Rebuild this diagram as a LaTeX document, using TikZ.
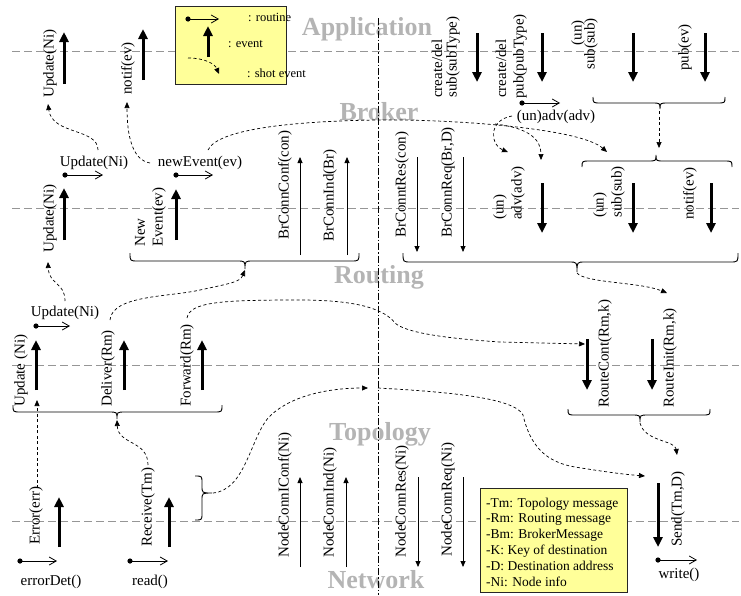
\documentclass[tikz,border=0pt]{standalone}
\usepackage{fontspec}
\setmainfont{Liberation Serif}
\usetikzlibrary{arrows.meta}
\definecolor{legyellow}{RGB}{255,255,153}
\definecolor{titlegray}{RGB}{180,180,180}
\definecolor{linegray}{RGB}{150,150,150}
\newcommand\hbrace[6]{%
 \draw[bracestyle] (#1,#3) .. controls (#1,#4) .. ({#1+8},#4) -- ({#5-8},#4) .. controls (#5,#4) .. (#5,#6) .. controls (#5,#4) .. ({#5+8},#4) -- ({#2-8},#4) .. controls (#2,#4) .. (#2,#3);}
\newcommand\rdot[1]{\fill[black] #1 circle[radius=2.6];}
\begin{document}
\begin{tikzpicture}[x=1pt,y=-1pt,
  lbl/.style={font=\fontsize{15}{18}\selectfont, inner sep=0pt},
  vlbl/.style={lbl, rotate=90, anchor=west},
  vlblE/.style={lbl, rotate=90, anchor=east},
  leglbl/.style={font=\fontsize{12.5}{15}\selectfont, inner sep=0pt},
  leglblb/.style={font=\fontsize{13.5}{15}\selectfont, inner sep=0pt},
  titlestyle/.style={font=\fontsize{26}{30}\selectfont\bfseries, text=titlegray, anchor=base, inner sep=0pt},
  thickarr/.style={line width=3pt, -{Triangle[length=10pt,width=9pt]}},
  thinarr/.style={line width=0.8pt, -{Triangle[length=6pt,width=5pt]}},
  dasharr/.style={line width=0.7pt, dash pattern=on 3pt off 2.5pt, -{Triangle[length=6pt,width=5pt]}},
  routine/.style={line width=0.8pt, -{Straight Barb[length=7pt,width=8pt]}},
  layerline/.style={draw=linegray, line width=0.9pt, dash pattern=on 8pt off 4pt},
  dashdotline/.style={draw=black, line width=0.8pt, dash pattern=on 7pt off 2pt on 1.5pt off 2pt},
  bracestyle/.style={line width=0.9pt},
  legbox/.style={fill=legyellow, draw=black!85, line width=1pt, inner sep=0pt}
]
\useasboundingbox (0,0) rectangle (741,595);
% layer lines
\draw[layerline] (12,51.5) -- (739,51.5);
\draw[layerline] (12,208) -- (739,208);
\draw[layerline] (12,365) -- (739,365);
\draw[layerline] (12,521) -- (739,521);
% titles
\node[titlestyle] (tApp) at (367,35) {Application};
\node[titlestyle] (tBro) at (379,120) {Broker};
\node[titlestyle] (tRou) at (379,283) {Routing};
\node[titlestyle] (tTop) at (380,440) {Topology};
\node[titlestyle] (tNet) at (376,588) {Network};
% vertical separator
\draw[dashdotline] (378,18) -- (378,595);

% top legend
\node[legbox, anchor=north west, minimum width=111pt, minimum height=78pt] (leg1) at (175,6) {};
\rdot{(188,19)}
\draw[routine] (188,19) -- (219,19);
\draw[thickarr] (208,57) -- (208,26);
\draw[dasharr] (188,58) .. controls (205,58) and (215,64) .. (219,74);
\node[leglbl, anchor=west] (lg1) at (248,17) {: routine};
\node[leglbl, anchor=west] (lg2) at (228,44) {: event};
\node[leglbl, anchor=west] (lg3) at (247,73) {: shot event};

% bottom legend
\node[legbox, anchor=north west, minimum width=147pt, minimum height=104pt] (leg2) at (480,488) {};
\node[leglblb, anchor=base west] (lt1) at (486,507) {-Tm: Topology message};
\node[leglblb, anchor=base west] (lt2) at (486,522.8) {-Rm: Routing message};
\node[leglblb, anchor=base west] (lt3) at (486,538.6) {-Bm: BrokerMessage};
\node[leglblb, anchor=base west] (lt4) at (486,554.4) {-K: Key of destination};
\node[leglblb, anchor=base west] (lt5) at (486,570.2) {-D: Destination address};
\node[leglblb, anchor=base west] (lt6) at (486,586) {-Ni: Node info};

% ===== Application layer =====
\draw[thickarr] (64,84) -- (64,32);
\node[vlbl] (aUpd) at (50,98) {Update(Ni)};
\draw[thickarr] (143,80) -- (143,29);
\node[vlbl] (aNotif) at (128,95) {notif(ev)};
\draw[thickarr] (477,33) -- (477,82);
\node[vlbl] (aCs1) at (437,98) {create/del};
\node[vlbl] (aCs2) at (453,98) {sub(subType)};
\draw[thickarr] (542,33) -- (542,82);
\node[vlbl] (aCp1) at (501,98) {create/del};
\node[vlbl] (aCp2) at (520,99) {pub(pubType)};
\draw[thickarr] (633,33) -- (633,82);
\node[vlblE] (aUn) at (578,20) {(un)};
\node[vlbl] (aSub) at (591,70) {sub(sub)};
\draw[thickarr] (705,33) -- (705,82);
\node[vlbl] (aPub) at (685,71) {pub(ev)};
\rdot{(522,103)}
\draw[routine] (522,103) -- (560,103);
\node[lbl] (unadv) at (556,117) {(un)adv(adv)};
\hbrace{593}{725}{97}{103}{660}{109}
\hbrace{582}{732}{167}{161}{656}{155}

% ===== Broker layer =====
\draw[thickarr] (64,240) -- (64,188);
\node[vlbl] (bUpd) at (50,253) {Update(Ni)};
\rdot{(65,175)}
\draw[routine] (65,175) -- (103,175);
\node[lbl] (bUpdTxt) at (94,163) {Update(Ni)};
\draw[thickarr] (176,240) -- (176,189);
\node[vlbl] (bNew1) at (140,247) {New};
\node[vlbl] (bNew2) at (159,247) {Event(ev)};
\rdot{(176,175)}
\draw[routine] (176,175) -- (213,175);
\node[lbl] (bNewEv) at (200,163) {newEvent(ev)};
\draw[thinarr] (300,255) -- (300,157);
\node[vlbl] (bConf) at (285,240) {BrConnConf(con)};
\draw[thinarr] (347,255) -- (347,157);
\node[vlbl] (bInd) at (330,242) {BrConnInd(Br)};
\hbrace{130}{359}{253}{261}{245}{269}
\draw[thinarr] (417,157) -- (417,252);
\node[vlbl] (bRes) at (402,238) {BrConntRes(con)};
\draw[thinarr] (463,157) -- (463,252);
\node[vlbl] (bReq) at (448,238) {BrConnReq(Br,D)};
\hbrace{403}{738}{253}{262}{577}{272}
\draw[thickarr] (542,183) -- (542,233);
\node[vlbl] (bUn1) at (500,220) {(un)};
\node[vlbl] (bAdv) at (518,220) {adv(adv)};
\draw[thickarr] (633,183) -- (633,233);
\node[vlbl] (bUn2) at (600,218) {(un)};
\node[vlbl] (bSub) at (618,218) {sub(sub)};
\draw[thickarr] (711,183) -- (711,233);
\node[vlbl] (bNotif) at (690,220) {notif(ev)};

% ===== Routing layer =====
\draw[thickarr] (36,390) -- (36,340);
\node[vlbl] (rUpd) at (21,407) {Update (Ni)};
\rdot{(36,326)}
\draw[routine] (36,326) -- (70,326);
\node[lbl] (rUpdTxt) at (65,313) {Update(Ni)};
\draw[thickarr] (124,390) -- (124,340);
\node[vlbl] (rDel) at (108,407) {Deliver(Rm)};
\draw[thickarr] (202,390) -- (202,340);
\node[vlbl] (rFwd) at (187,407) {Forward(Rm)};
\hbrace{13}{222}{405}{412}{117}{419}
\draw[thickarr] (587,339) -- (587,390);
\node[vlbl] (rCont) at (605,408) {RouteCont(Rm,k)};
\draw[thickarr] (652,339) -- (652,390);
\node[vlbl] (rInit) at (670,408) {RouteInit(Rm,k)};
\hbrace{568}{710}{409}{415}{640}{422}

% ===== Topology layer =====
\draw[thickarr] (59,547) -- (59,497);
\node[vlbl] (tErr) at (36,545) {Error(err)};
\rdot{(20,561)}
\draw[routine] (20,561) -- (57,561);
\node[lbl] (tErrDet) at (51,582) {errorDet()};
\draw[thickarr] (169,547) -- (169,497);
\node[vlbl] (tRecv) at (148,547) {Receive(Tm)};
\rdot{(130,561)}
\draw[routine] (130,561) -- (168,561);
\node[lbl] (tRead) at (150,582) {read()};
\draw[bracestyle] (195,476) .. controls (202,476) .. (202,483) -- (202,486) .. controls (202,493) .. (212,493) .. controls (202,493) .. (202,500) -- (202,513) .. controls (202,520) .. (195,520);
\draw[thinarr] (300,567) -- (300,477);
\node[vlbl] (tConf) at (285,558) {NodeConnIConf(Ni)};
\draw[thinarr] (346,567) -- (346,477);
\node[vlbl] (tInd) at (330,558) {NodeConnInd(Ni)};
\draw[thinarr] (418,477) -- (418,567);
\node[vlbl] (tRes) at (402,558) {NodeConnRes(Ni)};
\draw[thinarr] (463,477) -- (463,567);
\node[vlbl] (tReq) at (448,557) {NodeConnReq(Ni)};
\draw[thickarr] (658,483) -- (658,547);
\node[vlbl] (tSend) at (678,547) {Send(Tm,D)};
\rdot{(658,560)}
\draw[routine] (658,560) -- (697,560);
\node[lbl] (tWrite) at (679,575) {write()};

% ===== shot events (dashed connectors) =====
\coordinate (c1) at (98,150);
\draw[dasharr] (c1) .. controls (98,128) and (52,135) .. (48,104);
\draw[dasharr] (65,301) .. controls (65,282) and (49,285) .. (48,262);
\draw[dasharr] (150,163) .. controls (132,160) and (127,135) .. (127,102);
\draw[dasharr] (208,150) .. controls (218,128) and (300,121) .. (378,120) .. controls (450,119) and (580,128) .. (607,152);
\draw[dasharr] (512,116) .. controls (488,120) and (490,145) .. (508,152);
\draw[dasharr] (495,124) .. controls (530,128) and (541,140) .. (541,160);
\draw[dasharr] (659,111) -- (659,148);
\draw[dasharr] (577,273) .. controls (585,283) and (640,282) .. (667,293);
\draw[dasharr] (110,320) .. controls (112,295) and (170,297) .. (200,290) .. controls (232,283) and (240,282) .. (245,270);
\draw[dasharr] (187,318) .. controls (190,302) and (220,300) .. (300,300) .. controls (360,300) and (385,310) .. (395,323) .. controls (405,332) and (440,338) .. (500,342) -- (585,344);
\draw[dasharr] (148,465) .. controls (148,440) and (118,445) .. (117,420);
\draw[dasharr] (37,488) -- (37,400);
\draw[dasharr] (213,493) .. controls (245,490) and (250,440) .. (268,418) .. controls (290,395) and (330,388) .. (368,388);
\draw[dasharr] (378,388) .. controls (450,392) and (515,398) .. (523,415) .. controls (530,445) and (545,462) .. (575,467) .. controls (600,471) and (620,474) .. (645,476);
\draw[dasharr] (640,423) .. controls (645,442) and (675,440) .. (677,455);
\end{tikzpicture}
\end{document}
